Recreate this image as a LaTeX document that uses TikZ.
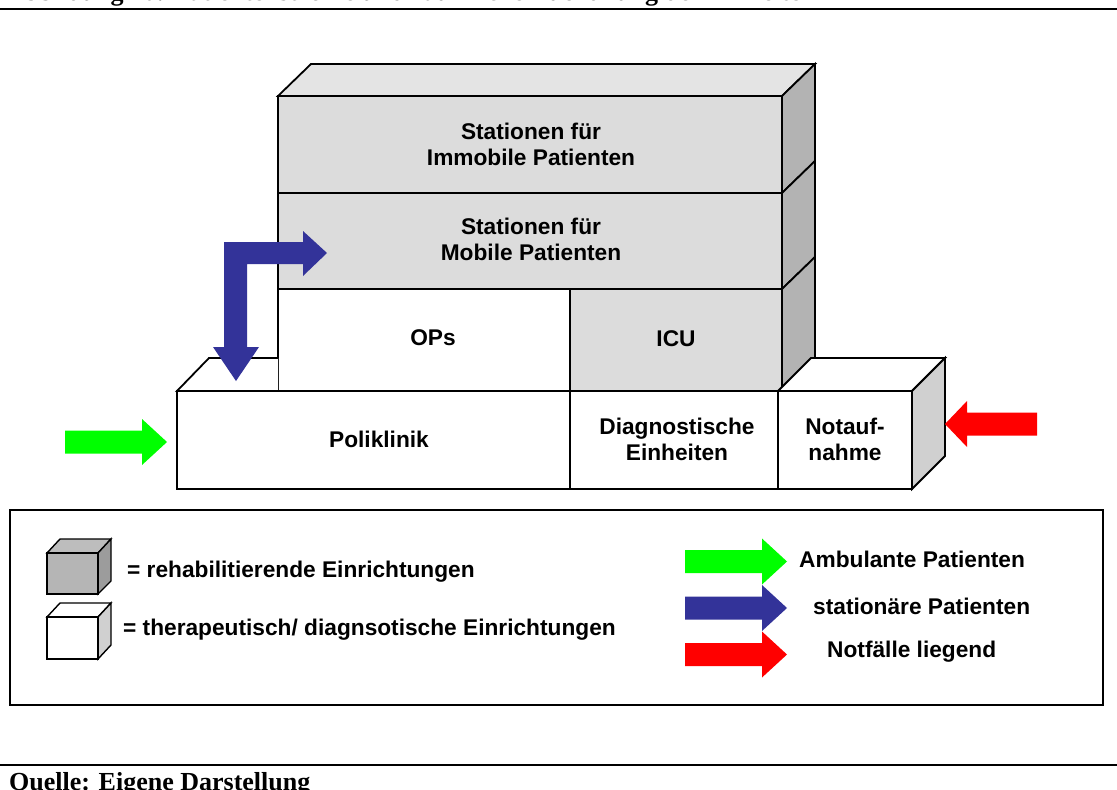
\documentclass[tikz,border=0pt]{standalone}
\usepackage{fontspec}
\setmainfont{Liberation Sans}
\newfontfamily\captionserif{Liberation Serif}

\definecolor{tierfront}{HTML}{DCDCDC}
\definecolor{tiertop}{HTML}{E4E4E4}
\definecolor{tierside}{HTML}{B3B3B3}
\definecolor{lightside}{HTML}{D0D0D0}
\definecolor{keyfront}{HTML}{B5B5B5}
\definecolor{keytop}{HTML}{BDBDBD}
\definecolor{keyside}{HTML}{9C9C9C}
\definecolor{ambgreen}{HTML}{00FF00}
\definecolor{statblue}{HTML}{333399}
\definecolor{notred}{HTML}{FF0000}

% right-pointing block arrow: colour, tail x, tip x, centre y
\newcommand\blockarrowright[4]{%
  \fill[#1] (#2,#4-11.5) -- (#3-25,#4-11.5) -- (#3-25,#4-23) -- (#3,#4)
    -- (#3-25,#4+23) -- (#3-25,#4+11.5) -- (#2,#4+11.5) -- cycle;}
% left-pointing block arrow: colour, tail x, tip x, centre y
\newcommand\blockarrowleft[4]{%
  \fill[#1] (#2,#4-11.5) -- (#3+22,#4-11.5) -- (#3+22,#4-23) -- (#3,#4)
    -- (#3+22,#4+23) -- (#3+22,#4+11.5) -- (#2,#4+11.5) -- cycle;}

\begin{document}
\begin{tikzpicture}[x=1pt,y=-1pt,
  face/.style={draw=black,line width=1.8pt,line join=miter},
  keyface/.style={draw=black,line width=1.4pt,line join=miter},
  rule/.style={line width=2pt},
  lbl/.style={font=\fontsize{22.7}{26}\selectfont\bfseries,align=center,inner sep=0pt},
  keylbl/.style={font=\fontsize{22.7}{26}\selectfont\bfseries,anchor=west,inner sep=0pt},
  capt/.style={font=\captionserif\fontsize{26}{30}\selectfont\bfseries,anchor=base west,inner sep=0pt}]
\useasboundingbox (0,0) rectangle (1117,790);
\clip (0,0) rectangle (1117,790);

% caption lines and texts
\node[capt] (title) at (5,0.5) {Abbildung 20: Patientenströme und räumliche Zuordnung der Einheiten};
\draw[rule] (0,8.5) -- (1117,8.5);
\draw[rule] (0,764.5) -- (1117,764.5);
\node[capt] (source) at (9,790) {Quelle: Eigene Darstellung};

% ---- tower: side faces and top ----
\draw[face,fill=tiertop] (278,96) -- (311,64) -- (815,64) -- (782,96) -- cycle;
\draw[face,fill=tierside] (782,96) -- (815,64) -- (815,161) -- (782,193) -- cycle;
\draw[face,fill=tierside] (782,193) -- (815,161) -- (815,257) -- (782,289) -- cycle;
\draw[face,fill=tierside] (782,289) -- (815,257) -- (815,358) -- (782,391) -- cycle;

% ---- tower: front faces ----
\draw[face,fill=tierfront] (278,96) rectangle (782,193);
\draw[face,fill=tierfront] (278,193) rectangle (782,289);
\draw[face,fill=white] (278,289) rectangle (570,391);
\draw[face,fill=tierfront] (570,289) rectangle (782,391);

% ---- ground row: top faces ----
\draw[face,fill=white] (278,391) -- (177,391) -- (209,358) -- (278,358);
\draw[face,fill=white] (778,391) -- (811,358) -- (945,358) -- (912,391) -- cycle;
\draw[face,fill=lightside] (912,391) -- (945,358) -- (945,456) -- (912,489) -- cycle;

% ---- ground row: front faces ----
\draw[face,fill=white] (177,391) rectangle (570,489);
\draw[face,fill=white] (570,391) rectangle (778,489);
\draw[face,fill=white] (778,391) rectangle (912,489);

% ---- labels ----
\node[lbl] (immobile) at (531,144) {Stationen für\\Immobile Patienten};
\node[lbl] (mobile) at (531,239) {Stationen für\\Mobile Patienten};
\node[lbl] (ops) at (433,338) {OPs};
\node[lbl] (icu) at (676,339) {ICU};
\node[lbl] (poli) at (379,439) {Poliklinik};
\node[lbl] (diag) at (677,439) {Diagnostische\\Einheiten};
\node[lbl] (notauf) at (845,439) {Notauf-\\nahme};

% ---- patient flows ----
\blockarrowright{ambgreen}{65}{167}{442}
\blockarrowleft{notred}{1037}{945}{424}
\fill[statblue] (224,347) -- (224,242) -- (303,242) -- (303,231) -- (327,253)
  -- (303,276) -- (303,264) -- (247,264) -- (247,347) -- (259,347)
  -- (236,381) -- (213,347) -- cycle;

% ---- legend ----
\draw[line width=1.8pt] (10,510) rectangle (1103,705);

\draw[keyface,fill=keytop] (47,553) -- (60,539) -- (111,539) -- (98,553) -- cycle;
\draw[keyface,fill=keyside] (98,553) -- (111,539) -- (111,581) -- (98,594) -- cycle;
\draw[keyface,fill=keyfront] (47,553) rectangle (98,594);

\draw[keyface,fill=white] (47,617) -- (60,603) -- (111,603) -- (98,617) -- cycle;
\draw[keyface,fill=lightside] (98,617) -- (111,603) -- (111,645) -- (98,659) -- cycle;
\draw[keyface,fill=white] (47,617) rectangle (98,659);

\node[keylbl] (rehab) at (127,572) {= rehabilitierende Einrichtungen};
\node[keylbl] (thera) at (123,630) {= therapeutisch/ diagnsotische Einrichtungen};

\blockarrowright{ambgreen}{685}{787}{561.5}
\blockarrowright{statblue}{685}{787}{608}
\blockarrowright{notred}{685}{787}{654.5}

\node[keylbl] (amb) at (799,559) {Ambulante Patienten};
\node[keylbl] (stat) at (813,606) {stationäre Patienten};
\node[keylbl] (notf) at (827,652) {Notfälle liegend};
\end{tikzpicture}
\end{document}
